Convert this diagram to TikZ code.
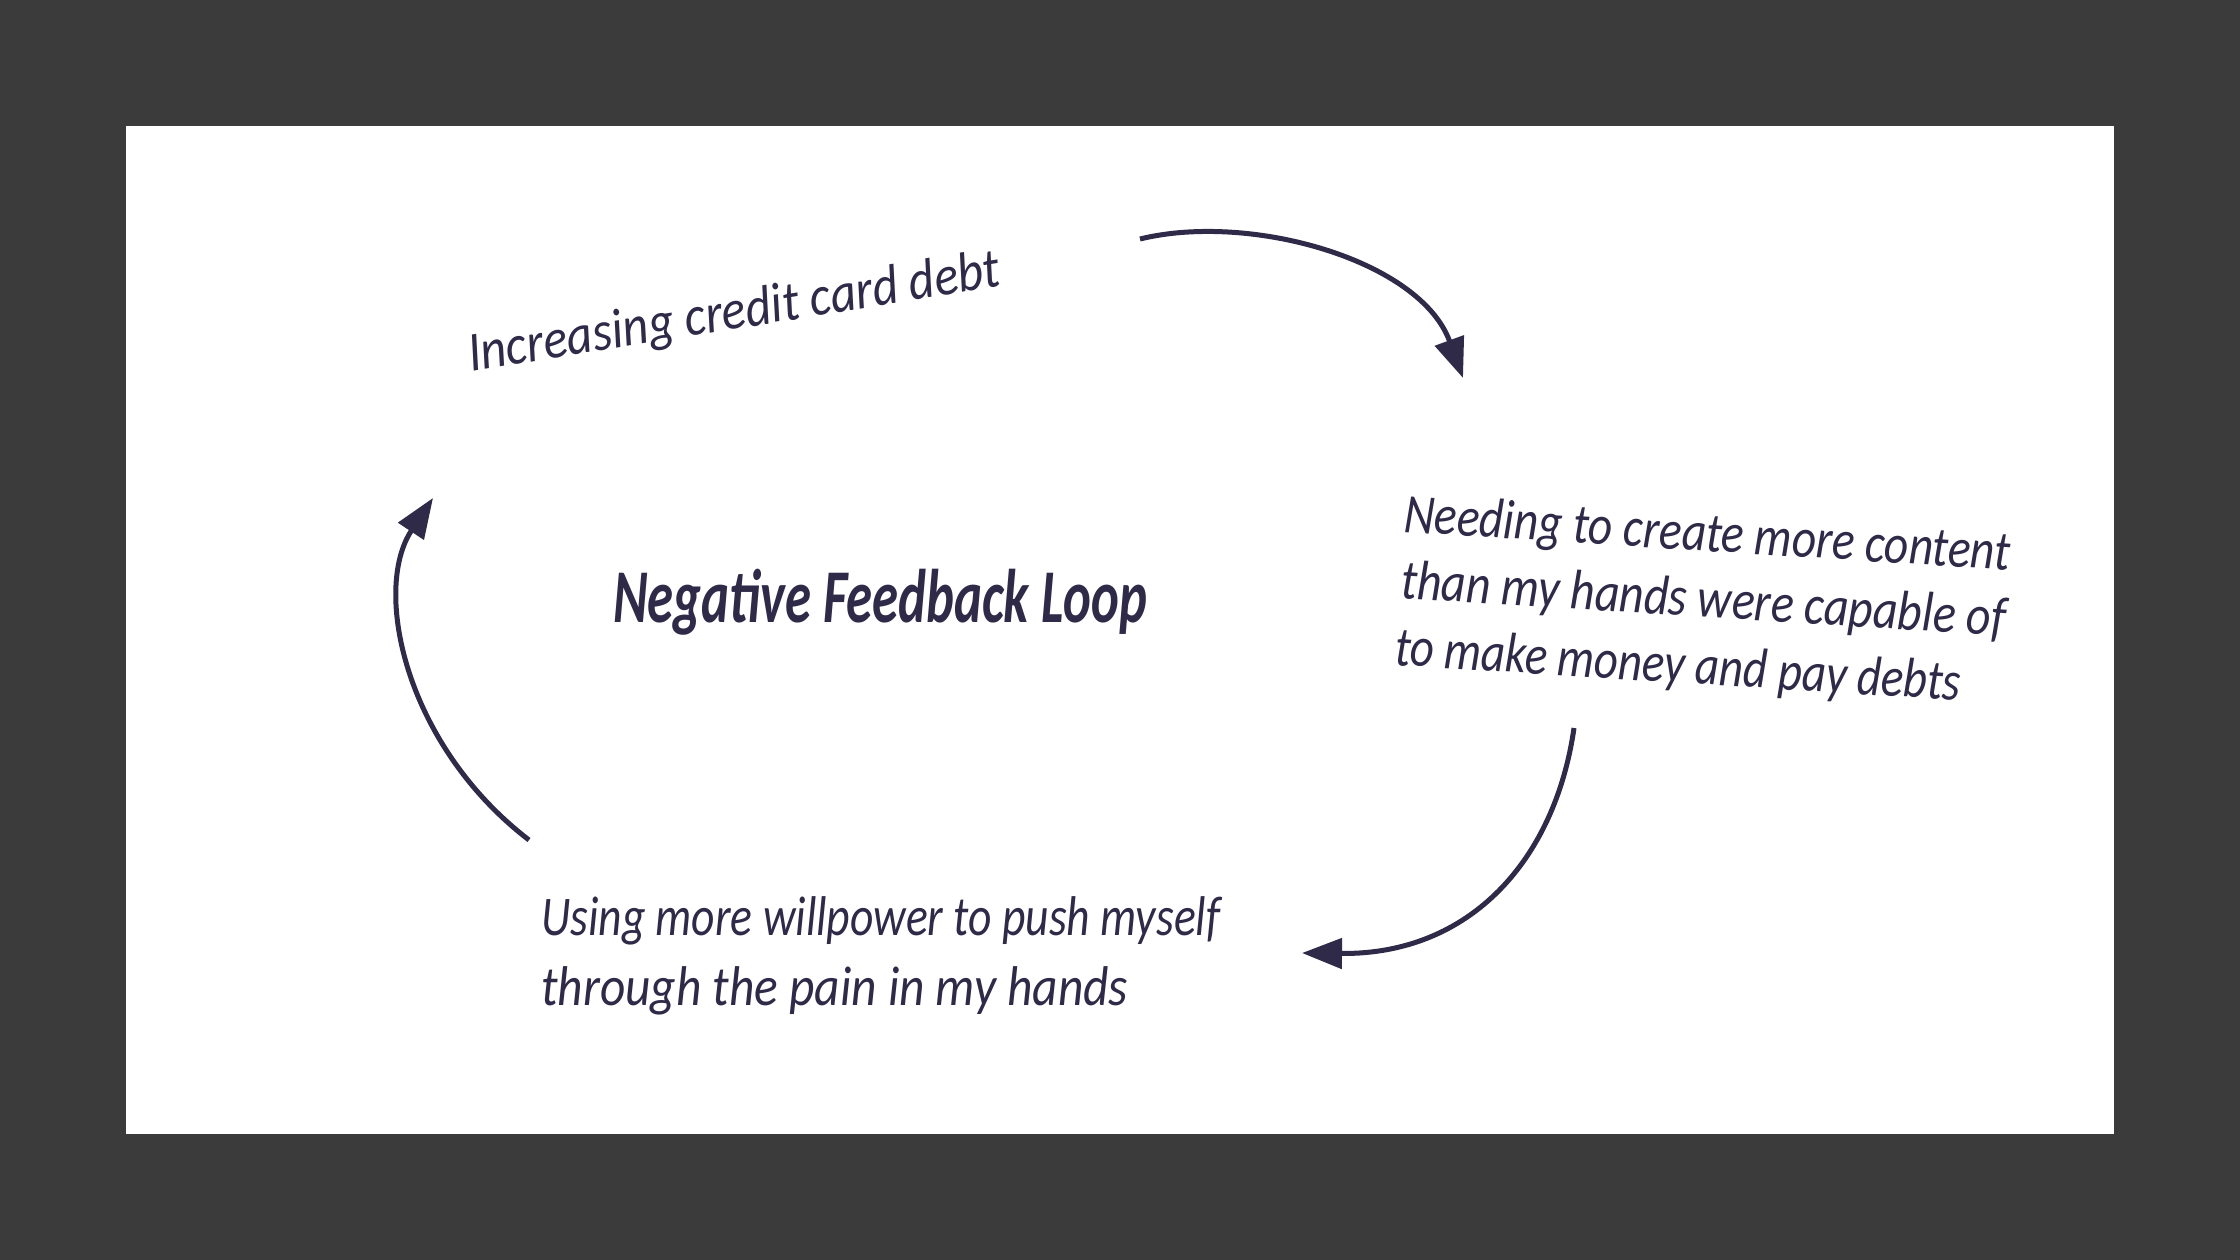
\documentclass[tikz,border=0pt]{standalone}
\usepackage{fontspec}
\setmainfont{Carlito}
\usetikzlibrary{arrows.meta}
\definecolor{bgdark}{RGB}{59,59,59}
\definecolor{ink}{RGB}{46,42,72}
\newsavebox\fitbox
\newcommand\fitw[2]{\sbox\fitbox{#2}\pgfmathsetmacro\fitsx{#1/\the\wd\fitbox}\scalebox{\fitsx}[1]{\usebox\fitbox}}
\tikzset{
  body/.style={font=\itshape\fontsize{56}{64}\selectfont, text=ink, inner sep=0pt, anchor=base west},
  headline/.style={font=\bfseries\itshape\fontsize{76}{80}\selectfont, text=ink, inner sep=0pt, anchor=base west},
  loopline/.style={draw=ink, line width=5pt, -{Triangle[length=40pt,width=30pt]}}
}
\begin{document}
\begin{tikzpicture}[x=1pt,y=-1pt]
\fill[bgdark] (0,0) rectangle (2240,1260);
\fill[white] (126,126) rectangle (2114,1134);
\useasboundingbox (0,0) rectangle (2240,1260);

% texts
\node[headline] (title) at (613,622) {\fitw{534}{Negative Feedback Loop}};
\node[body, rotate=9.2] (debt) at (471,372) {\fitw{538}{Increasing credit card debt}};
\node[body, rotate=-3.6] (need1) at (1403,532) {\fitw{607}{Needing to create more content}};
\node[body, rotate=-3.6] (need2) at (1400,598) {\fitw{606}{than my hands were capable of}};
\node[body, rotate=-3.6] (need3) at (1394,665) {\fitw{567}{to make money and pay debts}};
\node[body] (will1) at (541,935) {\fitw{679}{Using more willpower to push myself}};
\node[body] (will2) at (541,1005) {\fitw{587}{through the pain in my hands}};

% arrows
\coordinate (s1) at (1140,239);
\coordinate (e1) at (1463,378);
\coordinate (s2) at (1574,728);
\coordinate (e2) at (1302,953);
\coordinate (s3) at (529,840);
\coordinate (e3) at (433,498);
\draw[loopline] (s1) .. controls (1250,212) and (1420,260) .. (e1);
\draw[loopline] (s2) .. controls (1555,860) and (1470,955) .. (e2);
\draw[loopline] (s3) .. controls (405,745) and (372,590) .. (e3);
\end{tikzpicture}
\end{document}
